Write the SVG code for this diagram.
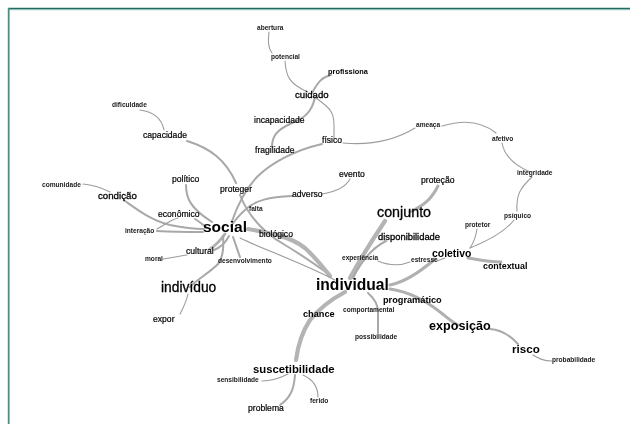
<svg xmlns="http://www.w3.org/2000/svg" width="630" height="424" viewBox="0 0 630 424">
  <defs>
    <!-- pass-through filter so labels rasterise in greyscale -->
    <filter id="flat" x="-5%" y="-20%" width="110%" height="140%">
      <feOffset dx="0" dy="0"/>
    </filter>
  </defs>
  <style>
    text { font-family: "Liberation Sans", Arial, sans-serif; fill: #000000; }
    .t { font-weight: bold; font-size: 6.6px; fill: #1a1a1a; }
    .m { font-size: 8.6px; stroke: #000000; stroke-width: 0.2; }
    .r { stroke: #000000; stroke-width: 0.3; }
    .b { font-weight: bold; }
    .e { fill: none; stroke: #9c9c9c; stroke-linecap: round; stroke-width: 1.1; }
    .w2 { stroke-width: 2; stroke: #a8a8a8; }
    .w3 { stroke-width: 3; stroke: #b0b0b0; }
    .w4 { stroke-width: 4.2; stroke: #b4b4b4; }
  </style>
  <rect width="630" height="424" fill="#ffffff"/>
  <!-- frame -->
  <line x1="8" y1="8.6" x2="630" y2="8.6" stroke="#1d6c5d" stroke-width="1.6"/>
  <line x1="8" y1="9.8" x2="630" y2="9.8" stroke="#9cc7bd" stroke-width="0.8"/>
  <line x1="8.7" y1="8" x2="8.7" y2="424" stroke="#4d8f80" stroke-width="1.8"/>

  <g id="edges">
    <path class="e" d="M269,32 C268,42 268,48 272,53"/>
    <path class="e" d="M285,61 C286,76 289,84 308,92"/>
    <path class="e w2" d="M312,93 C318,82 322,77 331,75"/>
    <path class="e" d="M316,98 C330,108 334,112 334,125 L334,138"/>
    <path class="e w2" d="M315,97 C312,112 305,118 290,124 C277,130 272,136 272,147"/>
    <path class="e" d="M343,143 C365,145 392,142 415,128"/>
    <path class="e" d="M442,126 C455,122 478,118 496,133"/>
    <path class="e" d="M502,143 C504,155 512,164 530,172"/>
    <path class="e" d="M532,177 C520,188 516,195 517,211"/>
    <path class="e" d="M514,220 C505,232 490,240 470,248"/>
    <path class="e" d="M477,229 C476,236 474,242 470,248"/>
    <path class="e w2" d="M322,144 C296,150 272,162 257,177 C245,190 237,207 232,221"/>
    <path class="e w2" d="M187,141 C210,148 226,160 236,183"/>
    <path class="e w2" d="M240,195 C248,215 262,232 285,245 C302,255 316,265 330,275"/>
    <path class="e" d="M350,179 C345,188 335,192 322,194"/>
    <path class="e w2" d="M292,196 C270,197 255,200 245,210 C238,216 234,222 231,226"/>
    <path class="e w2" d="M186,185 C186,198 190,208 212,222"/>
    <path class="e" d="M83,184 C95,185 102,188 110,192"/>
    <path class="e w2" d="M125,201 C135,208 150,220 170,225 C185,228 195,229 204,229"/>
    <path class="e" d="M157,229 C165,225 170,220 178,218"/>
    <path class="e w2" d="M195,219 C200,222 203,225 206,227"/>
    <path class="e w2" d="M157,231 C175,232 190,232 203,232"/>
    <path class="e w3" d="M225,234 C220,241 216,245 210,249"/>
    <path class="e w2" d="M229,236 C225,244 219,248 214,250"/>
    <path class="e" d="M163,259 C172,258 180,256 187,255"/>
    <path class="e w2" d="M233,237 C236,245 238,252 240,257"/>
    <path class="e w2" d="M223,236 C224,248 223,258 218,264 C208,274 196,280 190,287"/>
    <path class="e" d="M188,294 C186,303 183,308 180,314"/>
    <path class="e w4" d="M248,229 C266,232 290,236 305,248 C315,257 322,266 330,276"/>
    <path class="e" d="M240,238 C265,250 300,262 335,280"/>
    <path class="e w4" d="M385,221 C375,236 364,252 350,278"/>
    <path class="e w3" d="M438,186 C432,198 425,205 410,212"/>
    <path class="e w2" d="M353,278 C361,262 372,248 386,241"/>
    <path class="e" d="M378,261 C390,266 400,266 410,262"/>
    <path class="e w3" d="M390,285 C405,282 420,272 435,259"/>
    <path class="e w3" d="M468,258 C480,260 490,262 501,262"/>
    <path class="e" d="M437,261 L445,258"/>
    <path class="e w3" d="M390,289 C410,292 425,300 440,312 C448,318 452,322 458,325"/>
    <path class="e w2" d="M490,329 C502,330 510,335 518,344"/>
    <path class="e" d="M533,355 C538,358 543,361 552,361"/>
    <path class="e w2" d="M368,293 C376,300 378,306 378,312 L378,333"/>
    <path class="e w4" d="M345,292 C330,300 318,310 310,320 C302,332 298,345 296,360"/>
    <path class="e w2" d="M295,375 C294,390 290,398 280,405"/>
    <path class="e" d="M262,381 C272,381 280,378 288,374"/>
    <path class="e" d="M303,375 C314,380 318,388 318,397"/>
    <path class="e" d="M140,110 C155,112 162,120 164,130"/>
  </g>

  <g id="labels" filter="url(#flat)">
  <g id="n-abertura"><text class="t" x="257" y="30">abertura</text></g>
  <g id="n-potencial"><text class="t" x="271" y="59">potencial</text></g>
  <g id="n-profissiona"><text class="b" font-size="7.4" x="328" y="74">profissiona</text></g>
  <g id="n-cuidado"><text class="r" font-size="9.6" x="295" y="98">cuidado</text></g>
  <g id="n-incapacidade"><text class="m" x="254" y="123">incapacidade</text></g>
  <g id="n-fragilidade"><text class="m" x="255" y="153">fragilidade</text></g>
  <g id="n-fisico"><text class="m" x="322" y="143">físico</text></g>
  <g id="n-ameaca"><text class="t" x="416" y="127">ameaça</text></g>
  <g id="n-afetivo"><text class="t" x="492" y="141">afetivo</text></g>
  <g id="n-integridade"><text class="t" x="517" y="175">integridade</text></g>
  <g id="n-psiquico"><text class="t" x="504" y="218">psíquico</text></g>
  <g id="n-protetor"><text class="t" x="465" y="227">protetor</text></g>
  <g id="n-protecao"><text class="m" x="421" y="183">proteção</text></g>
  <g id="n-conjunto"><text class="r" font-size="14.3" x="377" y="217">conjunto</text></g>
  <g id="n-disponibilidade"><text class="r" font-size="9.4" x="378" y="240">disponibilidade</text></g>
  <g id="n-experiencia"><text class="t" x="342" y="260">experiência</text></g>
  <g id="n-estresse"><text class="t" x="411" y="262">estresse</text></g>
  <g id="n-coletivo"><text class="b" font-size="10.4" x="432" y="257">coletivo</text></g>
  <g id="n-contextual"><text class="b" font-size="8.9" x="483" y="269">contextual</text></g>
  <g id="n-individual"><text class="b" font-size="15.6" x="316" y="290">individual</text></g>
  <g id="n-programatico"><text class="b" font-size="9.2" x="383" y="303">programático</text></g>
  <g id="n-comportamental"><text class="t" x="343" y="312">comportamental</text></g>
  <g id="n-chance"><text class="b" font-size="9.2" x="303" y="317">chance</text></g>
  <g id="n-possibilidade"><text class="t" x="355" y="339">possibilidade</text></g>
  <g id="n-exposicao"><text class="b" font-size="12.6" x="429" y="330">exposição</text></g>
  <g id="n-risco"><text class="b" font-size="11.6" x="512" y="353">risco</text></g>
  <g id="n-probabilidade"><text class="t" x="552" y="362">probabilidade</text></g>
  <g id="n-suscetibilidade"><text class="b" font-size="11.3" x="253" y="373">suscetibilidade</text></g>
  <g id="n-sensibilidade"><text class="t" x="217" y="382">sensibilidade</text></g>
  <g id="n-ferido"><text class="t" x="310" y="403">ferido</text></g>
  <g id="n-problema"><text class="m" x="248" y="411">problema</text></g>
  <g id="n-dificuldade"><text class="t" x="112" y="107">dificuldade</text></g>
  <g id="n-capacidade"><text class="m" x="143" y="138">capacidade</text></g>
  <g id="n-comunidade"><text class="t" x="42" y="187">comunidade</text></g>
  <g id="n-condicao"><text class="r" font-size="9.7" x="98" y="199">condição</text></g>
  <g id="n-politico"><text class="m" x="172" y="182">político</text></g>
  <g id="n-proteger"><text class="m" x="220" y="192">proteger</text></g>
  <g id="n-evento"><text class="m" x="339" y="177">evento</text></g>
  <g id="n-adverso"><text class="m" x="292" y="197">adverso</text></g>
  <g id="n-falta"><text class="t" x="249" y="211">falta</text></g>
  <g id="n-economico"><text class="m" x="158" y="217">econômico</text></g>
  <g id="n-interacao"><text class="t" x="125" y="233">interação</text></g>
  <g id="n-social"><text class="b" font-size="15.5" x="203" y="232">social</text></g>
  <g id="n-biologico"><text class="m" x="259" y="237">biológico</text></g>
  <g id="n-cultural"><text class="m" x="186" y="254">cultural</text></g>
  <g id="n-moral"><text class="t" x="145" y="261">moral</text></g>
  <g id="n-desenvolvimento"><text class="t" x="218" y="263">desenvolvimento</text></g>
  <g id="n-individuo"><text class="r" font-size="13.8" x="161" y="292">indivíduo</text></g>
  <g id="n-expor"><text class="m" x="153" y="322">expor</text></g>
  </g>
</svg>
